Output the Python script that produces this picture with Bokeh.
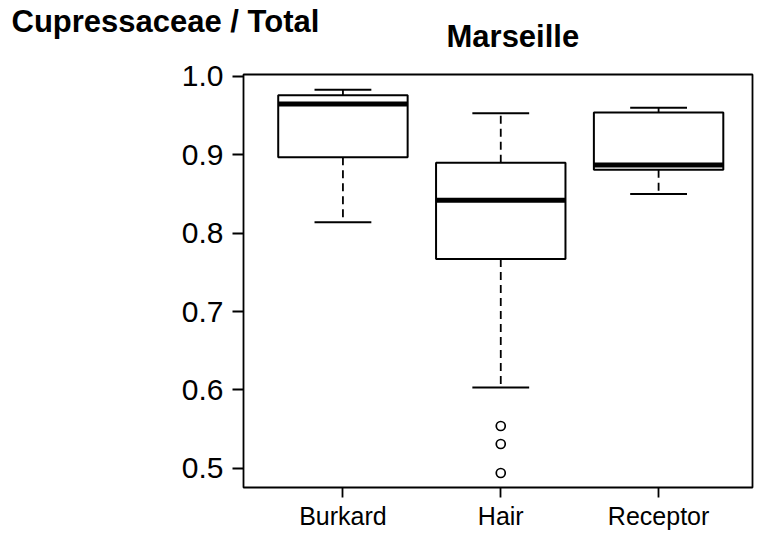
from bokeh.plotting import figure
from bokeh.models import ColumnDataSource, Range1d, FixedTicker, Title
from bokeh.embed import file_html
from bokeh.resources import INLINE

# ---- data ----
categories = ["Burkard", "Hair", "Receptor"]
whisker_low = [0.814, 0.603, 0.850]
q1 = [0.897, 0.767, 0.881]
median = [0.965, 0.842, 0.887]
q3 = [0.976, 0.890, 0.954]
whisker_high = [0.983, 0.953, 0.960]
outlier_group = ["Hair", "Hair", "Hair"]
outlier_values = [0.554, 0.531, 0.494]
y_ticks = [0.5, 0.6, 0.7, 0.8, 0.9, 1.0]
y_tick_labels = ["0.5", "0.6", "0.7", "0.8", "0.9", "1.0"]
title_text = "Marseille"
ylabel_text = "Cupressaceae / Total"

FONT = "Liberation Sans"
box_w = 0.82
cap_w = 0.36

pos = [i + 1 for i in range(len(categories))]
src = ColumnDataSource(dict(
    x=pos,
    left=[p - box_w / 2 for p in pos],
    right=[p + box_w / 2 for p in pos],
    cl=[p - cap_w / 2 for p in pos],
    cr=[p + cap_w / 2 for p in pos],
    lo=whisker_low, q1=q1, med=median, q3=q3, hi=whisker_high,
))
out_src = ColumnDataSource(dict(
    x=[categories.index(g) + 1 for g in outlier_group],
    y=outlier_values,
))

p = figure(width=762, height=533, output_backend="svg", toolbar_location=None,
           title=None,
           x_range=Range1d(0.37, 3.595), y_range=Range1d(0.4755, 1.0025),
           min_border_left=243, min_border_right=10, min_border_top=74,
           min_border_bottom=46)
p.background_fill_color = "white"
p.border_fill_color = "white"
p.outline_line_color = "black"
p.outline_line_width = 1.8
p.xgrid.visible = False
p.ygrid.visible = False

# whiskers
p.segment(x0="x", y0="q3", x1="x", y1="hi", source=src, line_color="black",
          line_width=1.8, line_dash="8 5")
p.segment(x0="x", y0="q1", x1="x", y1="lo", source=src, line_color="black",
          line_width=1.8, line_dash="8 5")
# caps
p.segment(x0="cl", y0="hi", x1="cr", y1="hi", source=src, line_color="black", line_width=2)
p.segment(x0="cl", y0="lo", x1="cr", y1="lo", source=src, line_color="black", line_width=2)
# boxes
p.quad(left="left", right="right", bottom="q1", top="q3", source=src,
       fill_color="white", line_color="black", line_width=2)
# medians
p.segment(x0="left", y0="med", x1="right", y1="med", source=src,
          line_color="black", line_width=5, line_cap="butt")
# outliers
p.scatter(x="x", y="y", source=out_src, marker="circle", size=9,
          fill_color="white", line_color="black", line_width=1.7)

# axes
xa = p.xaxis[0]
xa.ticker = FixedTicker(ticks=pos)
xa.major_label_overrides = {pp: c for pp, c in zip(pos, categories)}
xa.axis_line_color = None
xa.major_tick_line_color = "black"
xa.major_tick_line_width = 1.8
xa.major_tick_out = 10
xa.major_tick_in = 0
xa.minor_tick_line_color = None
xa.major_label_text_font = FONT
xa.major_label_text_font_size = "25px"
xa.major_label_text_color = "black"
xa.major_label_standoff = 4

ya = p.yaxis[0]
ya.ticker = FixedTicker(ticks=y_ticks)
ya.major_label_overrides = {t: l for t, l in zip(y_ticks, y_tick_labels)}
ya.axis_line_color = None
ya.major_tick_line_color = "black"
ya.major_tick_line_width = 1.8
ya.major_tick_out = 11
ya.major_tick_in = 0
ya.minor_tick_line_color = None
ya.major_label_text_font = FONT
ya.major_label_text_font_size = "30px"
ya.major_label_text_color = "black"
ya.major_label_standoff = 9

# titles: first added sits next to the frame, second one above it
t_main = Title(text=title_text, align="left", offset=203, standoff=37,
               vertical_align="top",
               text_font=FONT, text_font_size="31px", text_font_style="bold",
               text_color="black")
t_left = Title(text=ylabel_text, align="left", offset=-232, standoff=-77,
               vertical_align="bottom",
               text_font=FONT, text_font_size="31px", text_font_style="bold",
               text_color="black")
p.add_layout(t_main, "above")
p.add_layout(t_left, "above")

open("out.html", "w").write(file_html(p, INLINE))
